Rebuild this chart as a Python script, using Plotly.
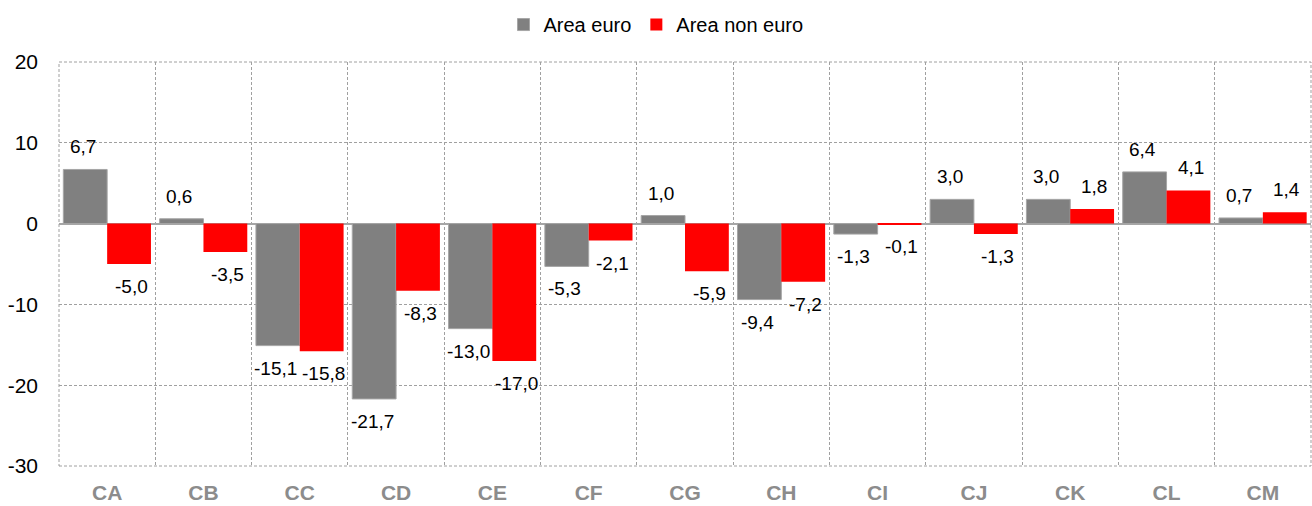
import plotly.graph_objects as go

categories = ["CA", "CB", "CC", "CD", "CE", "CF", "CG", "CH", "CI", "CJ", "CK", "CL", "CM"]
area_euro = [6.7, 0.6, -15.1, -21.7, -13.0, -5.3, 1.0, -9.4, -1.3, 3.0, 3.0, 6.4, 0.7]
area_non_euro = [-5.0, -3.5, -15.8, -8.3, -17.0, -2.1, -5.9, -7.2, -0.1, -1.3, 1.8, 4.1, 1.4]
y_ticks = [-30, -20, -10, 0, 10, 20]

xs = list(range(len(categories)))
FONT = "Liberation Sans Narrow, Arial Narrow, Liberation Sans, Arial"

def fmt(v):
    return f"{v:.1f}".replace(".", ",")

fig = go.Figure()
fig.add_trace(go.Bar(name="Area euro", x=xs, y=area_euro, marker=dict(color="#808080", line=dict(color="#a6a6a6", width=1))))
fig.add_trace(go.Bar(name="Area non euro", x=xs, y=area_non_euro, marker=dict(color="#ff0000", line=dict(width=0))))

annotations = []
for series, shift in ((area_euro, -24), (area_non_euro, 24)):
    for xi, v in zip(xs, series):
        annotations.append(dict(
            x=xi, y=v, xref="x", yref="y", text=fmt(v), showarrow=False,
            xshift=shift, yshift=10 if v >= 0 else -10,
            yanchor="bottom" if v >= 0 else "top",
            font=dict(family=FONT, size=19, color="#000000"),
        ))

fig.update_layout(
    width=1312, height=506,
    margin=dict(l=59, r=1, t=62, b=40),
    paper_bgcolor="white", plot_bgcolor="white",
    barmode="group", bargap=0.09, bargroupgap=0,
    font=dict(family=FONT, size=20, color="#000000"),
    legend=dict(orientation="h", xref="container", yref="container", x=0.5, xanchor="center",
                y=0.99, yanchor="top", font=dict(size=20), itemwidth=30, traceorder="normal"),
    annotations=annotations,
    shapes=[dict(type="rect", xref="paper", yref="paper", x0=0, x1=1, y0=0, y1=1,
                 line=dict(color="#a0a0a0", width=1, dash="3px,2px"), layer="below")],
    xaxis=dict(
        tickmode="array", tickvals=xs, ticktext=categories, range=[-0.5, len(categories) - 0.5],
        showgrid=False, zeroline=False, showline=False, ticks="",
        tickfont=dict(family=FONT, size=21, color="#8c8c8c", weight="bold"),
        ticklabelstandoff=12,
        minor=dict(tick0=0.5, dtick=1, showgrid=True, gridcolor="#a0a0a0", griddash="3px,2px", gridwidth=1, ticks=""),
    ),
    yaxis=dict(
        range=[-30, 20], tickvals=y_ticks, ticktext=[str(t) for t in y_ticks],
        showgrid=True, gridcolor="#a0a0a0", griddash="3px,2px", gridwidth=1,
        zeroline=True, zerolinecolor="#a6a6a6", zerolinewidth=2, showline=False, ticks="",
        tickfont=dict(size=21, color="#000000"), ticklabelstandoff=20,
    ),
)

fig.write_html("out.html")
